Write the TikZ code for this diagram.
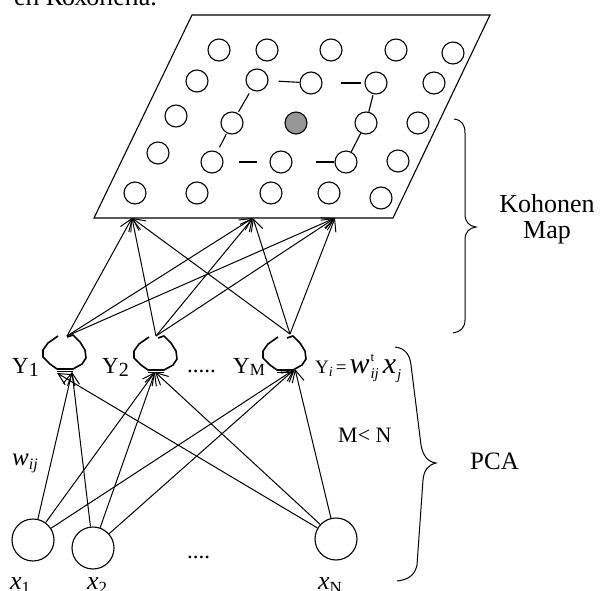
\documentclass[tikz,border=0pt]{standalone}
\usepackage{fontspec}
\setmainfont{Liberation Serif}
\usetikzlibrary{arrows.meta}
\newcommand\mysub[3][17]{\raisebox{-#2}{\fontsize{#1}{#1}\selectfont #3}}
\tikzset{
  mapc/.style={circle, draw, line width=1.1pt, minimum size=22pt, inner sep=0pt},
  inp/.style={circle, draw, line width=1.1pt, minimum size=42pt, inner sep=0pt},
  conn/.style={line width=1pt, -{Straight Barb[length=12pt,width=12pt]}},
  mline/.style={line width=1.1pt},
  lbl/.style={inner sep=0pt, anchor=base west, font=\fontsize{23}{23}\selectfont},
  big/.style={inner sep=0pt, anchor=base, font=\fontsize{26}{26}\selectfont},
  blob/.pic={
    \draw[line width=1.6pt, line join=round] (-7,-16) -- (-17,-9) -- (-22,-2) -- (-22,5) -- (-15,12) -- (-8,17) -- (8,17) -- (17,12) -- (21,6) -- (20,-2) -- (15,-10) -- (8,-17) -- (2,-15);
    \draw[line width=0.7pt] (-8,19) -- (8,19);
  }
}
\begin{document}
\begin{tikzpicture}[x=1pt,y=-1pt]
\useasboundingbox (0,0) rectangle (600,591);
% cut caption at top
\node[inner sep=0pt, anchor=base east, font=\fontsize{26}{26}\selectfont] (cap) at (157,6) {ен Кохонена.};
% Kohonen map plane
\draw[mline] (94,218) -- (192,15) -- (490,15) -- (393,218) -- cycle;
% map neurons
\foreach \n/\px/\py in {11/219/50,12/267/50,13/331/50,14/396/50,15/453/53,
  21/197/81,22/257/80,23/311/83,24/376/83,25/434/83,
  31/176/116,32/232/123,34/366/123,35/418/123,
  41/158/153,42/212/162,43/281/162,44/346/162,45/398/161,
  51/135/193,52/197/193,53/271/193,54/329/193,55/381/198}
  \node[mapc] (m\n) at (\px,\py) {};
\node[mapc, fill={rgb,255:red,150;green,150;blue,150}] (m33) at (296,123) {};
% neighbourhood lines
\draw[mline, shorten <=10pt] (m22) -- (m23);
\draw[mline, shorten <=18pt, shorten >=3pt] (m23) -- (m24);
\draw[mline, shorten <=4pt, shorten >=1.5pt] (m22) -- (m32);
\draw[mline, shorten <=1pt] (m24) -- (m34);
\draw[mline, shorten <=1pt, shorten >=5pt] (m32) -- (m42);
\draw[mline] (m34) -- (m44);
\draw[mline, shorten <=15pt, shorten >=12pt] (m42) -- (m43);
\draw[mline, shorten <=23pt] (m43) -- (m44);
% arrow targets on map
\coordinate (mA) at (132,218);
\coordinate (mB) at (253,218);
\coordinate (mC) at (335,218);
% hidden neurons
\pic at (65,352) {blob};
\pic at (156,353) {blob};
\pic at (285,353) {blob};
\coordinate (Y1out) at (67,336);
\coordinate (Y2out) at (156,336);
\coordinate (YMout) at (290,334);
\coordinate (Y1in) at (72,372);
\coordinate (Y1inL) at (57,373);
\coordinate (Y2in) at (155,372);
\coordinate (YMin) at (295,369);
% inputs
\node[inp] (x1) at (33,540) {};
\node[inp] (x2) at (93,548) {};
\node[inp] (xN) at (336,539) {};
% hidden -> map
\foreach \s in {Y1out,Y2out,YMout}
  \foreach \t in {mA,mB,mC}
    \draw[conn] (\s) -- (\t);
% inputs -> hidden
\draw[conn] (x1) -- (Y1in);
\draw[conn] (x1) -- (Y2in);
\draw[conn] (x1) -- (YMin);
\draw[conn] (x2) -- (Y1in);
\draw[conn] (x2) -- (Y2in);
\draw[conn] (x2) -- (YMin);
\draw[conn] (xN) -- (Y1inL);
\draw[conn] (xN) -- (Y2in);
\draw[conn] (xN) -- (YMin);
% labels
\node[lbl] (lY1) at (12,373) {Y\mysub[20]{3pt}{1}};
\node[lbl] (lY2) at (102,373) {Y\mysub[20]{3pt}{2}};
\node[lbl] (ldots) at (187,372) {.....};
\node[lbl] (lYM) at (233,373) {Y\mysub[17]{2pt}{M}};
\node[lbl, font=\fontsize{19}{19}\selectfont] (form) at (315,373)
  {Y\mysub[14]{3pt}{\itshape i}\kern3pt=\kern3pt{\fontsize{30}{30}\selectfont\itshape w}\kern1pt\rlap{\raisebox{12pt}{\fontsize{13}{13}\selectfont t}}\mysub[15]{5pt}{\itshape ij}\kern4pt{\fontsize{30}{30}\selectfont\itshape x}\kern1pt\mysub[15]{6pt}{\itshape j}};
\node[lbl, font=\fontsize{22}{22}\selectfont] (lMN) at (338,442) {M< N};
\node[lbl, font=\fontsize{25}{25}\selectfont\itshape] (lw) at (12,465) {w\mysub[16]{4pt}{ij}};
\node[lbl] (ldots2) at (187,558) {....};
\node[lbl, font=\fontsize{26}{26}\selectfont\itshape] (lx1) at (10,589) {x\mysub[17]{4pt}{\upshape 1}};
\node[lbl, font=\fontsize{26}{26}\selectfont\itshape] (lx2) at (87,589) {x\mysub[17]{4pt}{\upshape 2}};
\node[lbl, font=\fontsize{26}{26}\selectfont\itshape] (lxN) at (318,589) {x\mysub[17]{4pt}{\upshape N}};
\node[big] (kh) at (547,212) {Kohonen};
\node[big] (mp) at (547,238) {Map};
\node[lbl, font=\fontsize{25}{25}\selectfont] (pca) at (470,469) {PCA};
% braces
\draw[line width=1pt] (454,119) .. controls (462,120) and (465,125) .. (465,133) -- (465,214)
  .. controls (465,222) and (469,226) .. (476,227) .. controls (469,228) and (465,232) .. (465,240)
  -- (465,320) .. controls (465,328) and (460,332) .. (453,333);
\draw[line width=1pt] (395,347) .. controls (405,348) and (410,355) .. (411,365) -- (421,445)
  .. controls (423,456) and (428,462) .. (436,463) .. controls (428,465) and (424,470) .. (423,480)
  -- (417,565) .. controls (415,575) and (408,580) .. (397,581);
\end{tikzpicture}
\end{document}
